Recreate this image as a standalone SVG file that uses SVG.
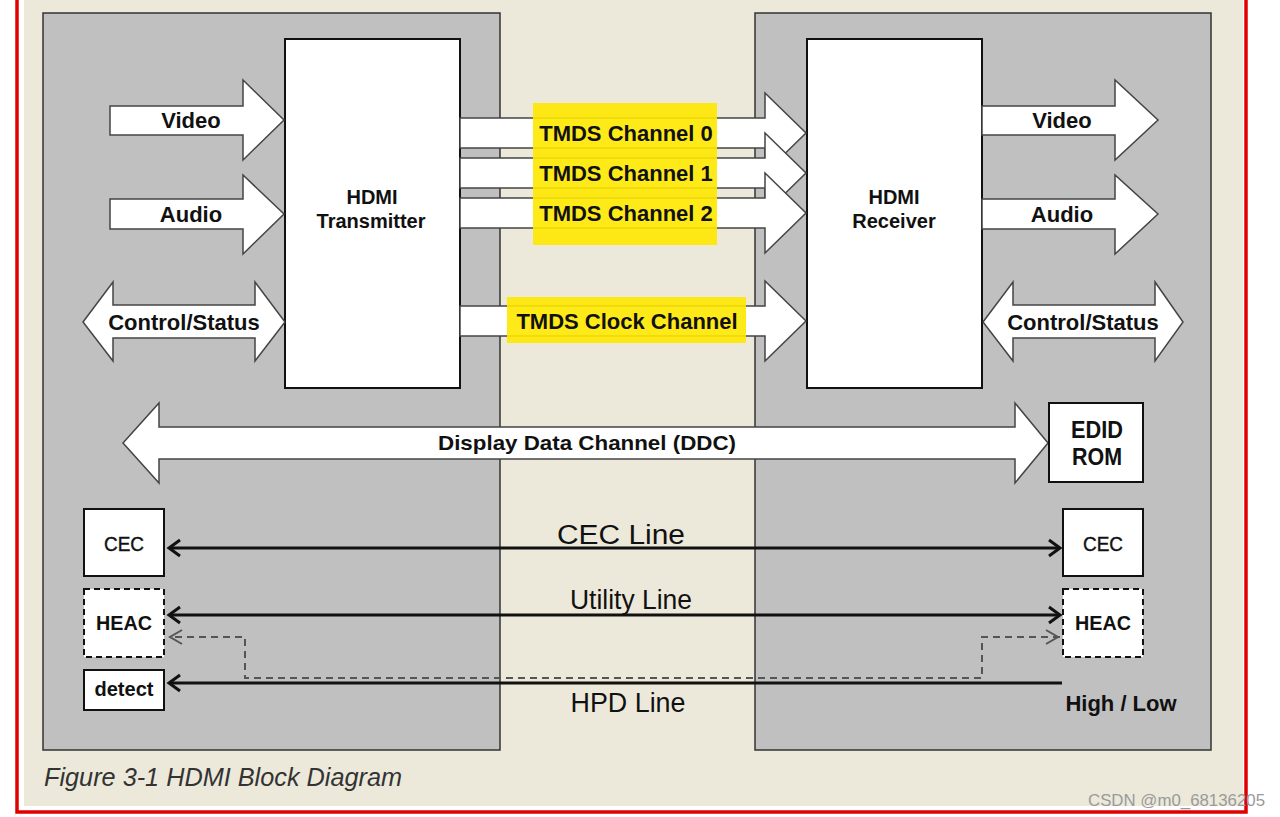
<svg xmlns="http://www.w3.org/2000/svg" width="1280" height="817" viewBox="0 0 1280 817">
<style>
.panel{fill:#c0c0c0;stroke:#333;stroke-width:1.5}
.box{fill:#fff;stroke:#111;stroke-width:2}
.dbox{fill:#fff;stroke:#111;stroke-width:2;stroke-dasharray:6,4}
.arr{fill:#fff;stroke:#444;stroke-width:1.5;stroke-linejoin:miter}
.hl{fill:#ffe800;fill-opacity:0.9}
.b{font-family:"Liberation Sans",Arial,sans-serif;font-weight:bold;fill:#111;text-anchor:middle}
.r{font-family:"Liberation Sans",Arial,sans-serif;fill:#111;text-anchor:middle}
.m{font-family:"Liberation Sans",Arial,sans-serif;fill:#111;stroke:#111;stroke-width:0.4;text-anchor:middle}
.ln{fill:none;stroke:#111;stroke-width:3}
.dl{fill:none;stroke:#555;stroke-width:2;stroke-dasharray:7,5}
.hd{fill:none;stroke:#111;stroke-width:3;stroke-linejoin:miter}
.dh{fill:none;stroke:#555;stroke-width:2}
</style>
<rect x="0" y="0" width="1280" height="817" fill="#fff"/>
<rect x="17" y="-10" width="1229" height="822" fill="#fff" stroke="#e00000" stroke-width="3.5"/>
<rect x="24" y="-10" width="1219" height="816" fill="#ece9db"/>

<g id="tx-panel"><rect class="panel" x="43" y="13" width="457" height="737"/></g>
<g id="rx-panel"><rect class="panel" x="755" y="13" width="456" height="737"/></g>

<g id="transmitter">
<rect class="box" x="285" y="39" width="175" height="349"/>
<text class="b" x="372" y="204" font-size="20">HDMI</text>
<text class="b" x="371" y="228" font-size="20">Transmitter</text>
</g>
<g id="receiver">
<rect class="box" x="807" y="39" width="175" height="349"/>
<text class="b" x="894" y="204" font-size="20">HDMI</text>
<text class="b" x="894" y="228" font-size="20">Receiver</text>
</g>

<g id="video-in">
<polygon class="arr" points="110,106 243,106 243,80 284,120 243,160 243,135 110,135"/>
<text class="b" x="191" y="128" font-size="22">Video</text>
</g>
<g id="audio-in">
<polygon class="arr" points="110,199 243,199 243,175 284,214 243,254 243,229 110,229"/>
<text class="b" x="191" y="222" font-size="22">Audio</text>
</g>
<g id="ctrl-tx">
<polygon class="arr" points="83,322 113,282 113,305 255,305 255,282 285,322 255,361 255,338 113,338 113,361"/>
<text class="b" x="184" y="330" font-size="22">Control/Status</text>
</g>
<g id="video-out">
<polygon class="arr" points="982,106 1115,106 1115,80 1158,120 1115,160 1115,135 982,135"/>
<text class="b" x="1062" y="128" font-size="22">Video</text>
</g>
<g id="audio-out">
<polygon class="arr" points="982,199 1115,199 1115,175 1158,214 1115,254 1115,229 982,229"/>
<text class="b" x="1062" y="222" font-size="22">Audio</text>
</g>
<g id="ctrl-rx">
<polygon class="arr" points="983,322 1013,282 1013,305 1155,305 1155,282 1183,322 1155,361 1155,338 1013,338 1013,361"/>
<text class="b" x="1083" y="330" font-size="22">Control/Status</text>
</g>

<g id="tmds">
<polygon class="arr" points="460,118 765,118 765,93 806,133 765,173 765,148 460,148"/>
<polygon class="arr" points="460,158 765,158 765,133 806,173 765,213 765,188 460,188"/>
<polygon class="arr" points="460,198 765,198 765,173 806,213 765,253 765,228 460,228"/>
<polygon class="arr" points="460,306 765,306 765,281 806,321 765,361 765,336 460,336"/>
<rect class="hl" x="533" y="103" width="184" height="142"/>
<rect class="hl" x="507" y="297" width="239" height="46"/>
<text class="b" x="626" y="141" font-size="22">TMDS Channel 0</text>
<text class="b" x="626" y="181" font-size="22">TMDS Channel 1</text>
<text class="b" x="626" y="221" font-size="22">TMDS Channel 2</text>
<text class="b" x="627" y="329" font-size="22">TMDS Clock Channel</text>
</g>

<g id="ddc">
<polygon class="arr" points="123,443 159,403 159,427 1015,427 1015,403 1048,443 1015,483 1015,459 159,459 159,483"/>
<text class="b" x="587" y="450" font-size="21" textLength="298" lengthAdjust="spacingAndGlyphs">Display Data Channel (DDC)</text>
</g>
<g id="edid">
<rect class="box" x="1049" y="403" width="94" height="79"/>
<text class="b" x="1097" y="438" font-size="23" textLength="52" lengthAdjust="spacingAndGlyphs">EDID</text>
<text class="b" x="1097" y="465" font-size="23" textLength="50" lengthAdjust="spacingAndGlyphs">ROM</text>
</g>

<g id="cec-tx"><rect class="box" x="84" y="509" width="80" height="67"/><text class="m" x="124" y="551" font-size="20" textLength="40" lengthAdjust="spacingAndGlyphs">CEC</text></g>
<g id="heac-tx"><rect class="dbox" x="84" y="589" width="80" height="68"/><text class="b" x="124" y="630" font-size="21" textLength="56" lengthAdjust="spacingAndGlyphs">HEAC</text></g>
<g id="detect"><rect class="box" x="84" y="670" width="80" height="40"/><text class="b" x="124" y="696" font-size="21" textLength="59" lengthAdjust="spacingAndGlyphs">detect</text></g>
<g id="cec-rx"><rect class="box" x="1063" y="509" width="80" height="67"/><text class="m" x="1103" y="551" font-size="20" textLength="40" lengthAdjust="spacingAndGlyphs">CEC</text></g>
<g id="heac-rx"><rect class="dbox" x="1063" y="589" width="80" height="68"/><text class="b" x="1103" y="630" font-size="21" textLength="56" lengthAdjust="spacingAndGlyphs">HEAC</text></g>

<g id="connectors">
<line class="ln" x1="169" y1="548" x2="1060" y2="548"/>
<polyline class="hd" points="180,540 169,548 180,556"/>
<polyline class="hd" points="1049,540 1060,548 1049,556"/>
<line class="ln" x1="169" y1="615" x2="1060" y2="615"/>
<polyline class="hd" points="180,607 169,615 180,623"/>
<polyline class="hd" points="1049,607 1060,615 1049,623"/>
<path class="dl" d="M1060,637 L982,637 L982,678 L245,678 L245,637 L170,637"/>
<polyline class="dh" points="182,630 170,637 182,644"/>
<polyline class="dh" points="1046,630 1058,637 1046,644"/>
<line class="ln" x1="169" y1="683" x2="1062" y2="683"/>
<polyline class="hd" points="180,675 169,683 180,691"/>
</g>

<g id="labels">
<text class="r" x="621" y="544" font-size="27" textLength="128" lengthAdjust="spacingAndGlyphs">CEC Line</text>
<text class="r" x="631" y="609" font-size="27" textLength="122" lengthAdjust="spacingAndGlyphs">Utility Line</text>
<text class="r" x="628" y="712" font-size="27" textLength="115" lengthAdjust="spacingAndGlyphs">HPD Line</text>
<text class="b" x="1121" y="711" font-size="22">High / Low</text>
<text x="44" y="786" font-family="Liberation Sans,Arial,sans-serif" font-style="italic" font-size="25" fill="#333" textLength="358" lengthAdjust="spacingAndGlyphs">Figure 3-1 HDMI Block Diagram</text>
<text x="1088" y="806" font-family="Liberation Sans,Arial,sans-serif" font-size="17" fill="#9a9a9a" textLength="177" lengthAdjust="spacingAndGlyphs">CSDN @m0_68136205</text>
</g>
</svg>
